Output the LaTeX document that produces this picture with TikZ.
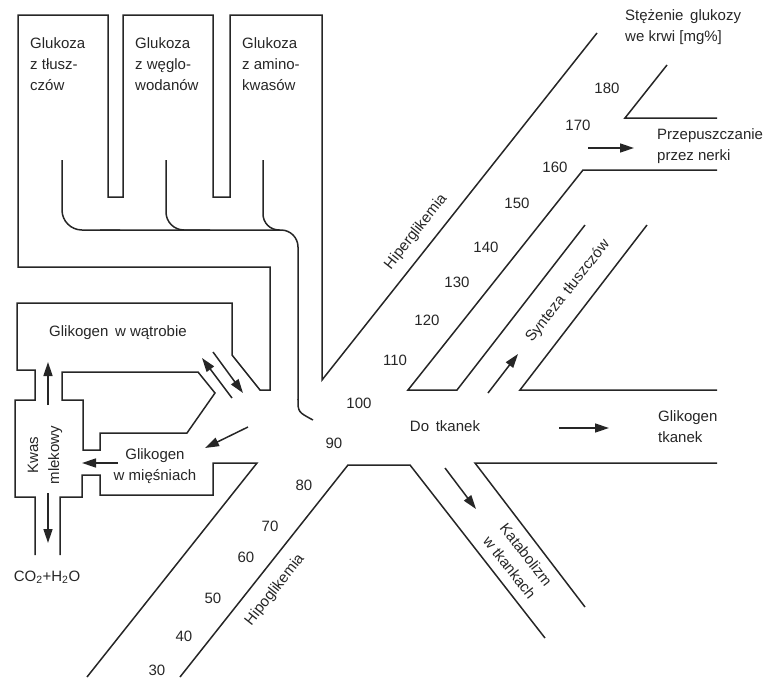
\documentclass[tikz,border=0pt]{standalone}
\usepackage{fontspec}
\setmainfont{Liberation Sans}
\usetikzlibrary{arrows.meta}

\begin{document}
\begin{tikzpicture}[x=1pt,y=-1pt]
\tikzstyle{every node}=[inner sep=0pt,text=black!85,font=\fontsize{15}{21}\selectfont]
\tikzstyle{wall}=[draw=black!85,line width=1.5pt]
\tikzstyle{flow}=[draw=black!85,line width=1.5pt,-{Triangle[length=14pt,width=9pt]}]
\tikzstyle{pipe}=[wall,rounded corners=18pt]
\tikzstyle{txt}=[align=left,anchor=north west]
\useasboundingbox (0,0) rectangle (772,678);

\draw[wall] (35,555) -- (35,497) -- (15,497) -- (15,400) -- (35,400) -- (35,370) -- (17,370)
  -- (17,303) -- (232,303) -- (232,355) -- (260,390) -- (270,390) -- (270,267) -- (18,267)
  -- (18,15) -- (108,15) -- (108,197) -- (123,197) -- (123,15) -- (213,15) -- (213,197)
  -- (230,197) -- (230,15) -- (322,15) -- (322,380) -- (597,33);
\draw[wall] (198,372) -- (62,372) -- (62,400) -- (83,400) -- (83,450) -- (100,450) -- (100,433)
  -- (187,433) -- (215,393) -- cycle;
\draw[wall] (60,555) -- (60,497) -- (82,497) -- (82,475) -- (100,475) -- (100,495) -- (213,495)
  -- (213,463) -- (257,463) -- (87,677);
\draw[wall] (180,677) -- (348,465) -- (410,465) -- (545,638);
\draw[wall] (585,607) -- (475,463) -- (717,463);
\draw[wall] (717,390) -- (520,390) -- (647,225);
\draw[wall] (585,225) -- (457,390) -- (408,390) -- (583,170) -- (717,170);
\draw[wall] (717,118) -- (625,118) -- (667,65);

\draw[pipe,rounded corners=20pt] (62,160) -- (62,230) -- (120,230);
\draw[pipe] (166,160) -- (166,230) -- (210,230);
\draw[pipe,rounded corners=16pt] (263,160) -- (263,230) -- (280,230);
\draw[pipe,rounded corners=17pt] (100,230) -- (298,230) -- (298,400);
\draw[wall] (298,399) .. controls (298,412) .. (313,420);

\draw[flow] (48,405) -- (48,362);
\draw[flow] (48,493) -- (48,543);
\draw[flow] (118,463) -- (82,463);
\draw[flow] (232,398) -- (202,358);
\draw[flow] (213,352) -- (243,393);
\draw[flow] (248,427) -- (205,448);
\draw[flow] (488,393) -- (518,354);
\draw[flow] (559,428) -- (609,428);
\draw[flow] (445,468) -- (476,509);
\draw[flow] (588,148) -- (634,148);

\node[txt] (gt) at (30,37) {Glukoza\\z tłusz-\\czów};
\node[txt] (gw) at (135,37) {Glukoza\\z węglo-\\wodanów};
\node[txt] (ga) at (242,37) {Glukoza\\z amino-\\kwasów};
\node[txt] (sg) at (625,9) {Stężenie\, glukozy\\we krwi [mg\%]};
\node[txt] (pn) at (657,128) {Przepuszczanie\\przez nerki};
\node[txt] (gk) at (658,410) {Glikogen\\tkanek};
\node (gl) at (118,333) {Glikogen\, w wątrobie};
\node[align=center] (gm) at (155,466) {Glikogen\\w mięśniach};
\node (dt) at (445,426) {Do\, tkanek};
\node[align=center,rotate=90] (km) at (45,455) {Kwas\\mlekowy};
\node (co) at (47,577) {CO\textsubscript{2}+H\textsubscript{2}O};
\node[rotate=51.7] (hi) at (416,232) {Hiperglikemia};
\node[rotate=51.7] (ho) at (275,590) {Hipoglikemia};
\node[rotate=51.7] (st) at (568,291) {Synteza\, tłuszczów};
\node[align=center,rotate=-52] (kt) at (518,561) {Katabolizm\\w tkankach};

\foreach \v/\px/\py in {180/607/88,170/578/125,160/555/167,150/517/203,140/486/247,
  130/457/282,120/427/320,110/395/360,100/359/403,90/334/443,80/304/485,70/270/526,
  60/246/557,50/213/598,40/184/636,30/157/670}
  \node (n\v) at (\px,\py) {\v};
\end{tikzpicture}
\end{document}
